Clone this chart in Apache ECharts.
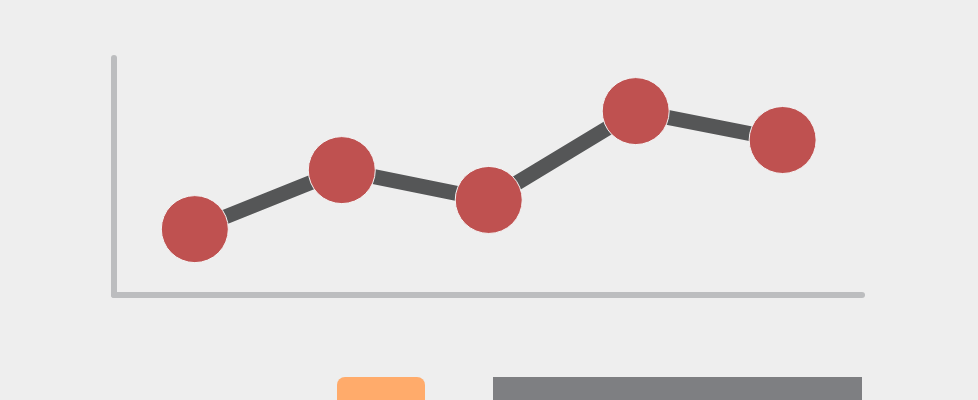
<!DOCTYPE html>
<html><head><meta charset="utf-8">
<script src="https://cdn.jsdelivr.net/npm/echarts@6/dist/echarts.min.js"></script>
<style>html,body{margin:0;padding:0;background:#eeeeee;}#c{width:978px;height:400px;}</style>
</head><body><div id="c"></div>
<script>
const xPositions = [1, 2, 3, 4, 5];
const values = [27.8, 52.7, 40.1, 77.6, 65.4];

const chart = echarts.init(document.getElementById('c'));
chart.setOption({
  animation: false,
  backgroundColor: '#eeeeee',
  grid: { left: 114, right: 116, top: 58, bottom: 105 },
  xAxis: {
    type: 'value', min: 0.45, max: 5.54,
    axisLine: { show: true, onZero: false, lineStyle: { color: '#bcbdbf', width: 6, cap: 'round' } },
    axisTick: { show: false }, axisLabel: { show: false }, splitLine: { show: false }
  },
  yAxis: {
    type: 'value', min: 0, max: 100,
    axisLine: { show: true, onZero: false, lineStyle: { color: '#bcbdbf', width: 6, cap: 'round' } },
    axisTick: { show: false }, axisLabel: { show: false }, splitLine: { show: false }
  },
  series: [{
    type: 'line',
    data: xPositions.map((x, i) => [x, values[i]]),
    lineStyle: { color: '#555657', width: 15 },
    symbol: 'circle', symbolSize: 67,
    itemStyle: { color: '#bf5150', borderColor: '#f4f4f4', borderWidth: 1 },
    z: 3
  }],
  graphic: [
    { type: 'rect', shape: { x: 337, y: 377, width: 88, height: 40, r: 8 }, style: { fill: '#ffab6b' } },
    { type: 'rect', shape: { x: 493, y: 377, width: 369, height: 30 }, style: { fill: '#7e7f82' } }
  ]
});
</script></body></html>
